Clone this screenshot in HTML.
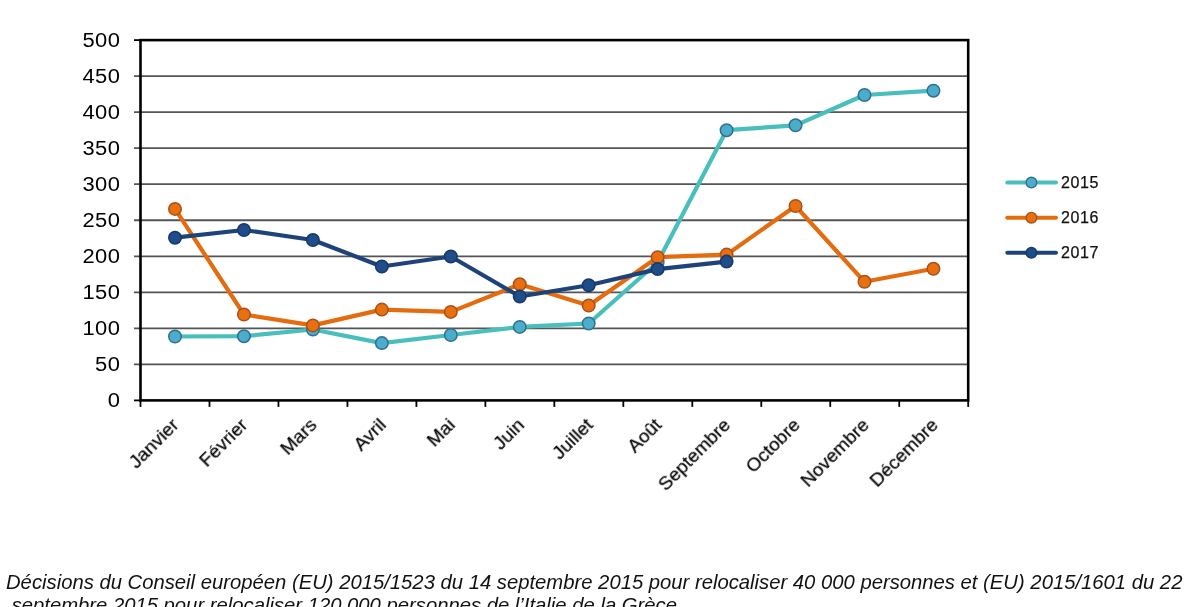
<!DOCTYPE html>
<html><head><meta charset="utf-8"><style>
html,body{margin:0;padding:0;background:#fff;}
body{width:1200px;height:607px;overflow:hidden;position:relative;font-family:"Liberation Sans",sans-serif;-webkit-font-smoothing:antialiased;}
.yl,.xl,.lg,.cap{will-change:transform;}
svg{position:absolute;left:0;top:0;}
.yl{position:absolute;left:0;width:120.3px;text-align:right;font-size:20.5px;line-height:20px;color:#000;letter-spacing:0.4px;transform:scaleX(1.07);transform-origin:100% 50%;}
.xl{position:absolute;font-size:19px;line-height:19px;white-space:nowrap;color:#000;-webkit-text-stroke:0.2px #000;transform-origin:100% 50%;transform:rotate(-45deg);}
.lg{position:absolute;font-size:16px;line-height:16px;color:#111;letter-spacing:0.6px;-webkit-text-stroke:0.25px #111;}
.cap{position:absolute;left:6px;font-style:italic;font-size:20.25px;line-height:23.25px;white-space:nowrap;color:#111;}
</style></head><body>

<svg width="1200" height="607" viewBox="0 0 1200 607">
<line x1="134.0" y1="364.37" x2="968.2" y2="364.37" stroke="#555555" stroke-width="1.8"/>
<line x1="134.0" y1="328.34" x2="968.2" y2="328.34" stroke="#555555" stroke-width="1.8"/>
<line x1="134.0" y1="292.31" x2="968.2" y2="292.31" stroke="#555555" stroke-width="1.8"/>
<line x1="134.0" y1="256.28" x2="968.2" y2="256.28" stroke="#555555" stroke-width="1.8"/>
<line x1="134.0" y1="220.25" x2="968.2" y2="220.25" stroke="#555555" stroke-width="1.8"/>
<line x1="134.0" y1="184.22" x2="968.2" y2="184.22" stroke="#555555" stroke-width="1.8"/>
<line x1="134.0" y1="148.19" x2="968.2" y2="148.19" stroke="#555555" stroke-width="1.8"/>
<line x1="134.0" y1="112.16" x2="968.2" y2="112.16" stroke="#555555" stroke-width="1.8"/>
<line x1="134.0" y1="76.13" x2="968.2" y2="76.13" stroke="#555555" stroke-width="1.8"/>
<rect x="140.5" y="40.10" width="827.7" height="360.30" fill="none" stroke="#000" stroke-width="2.6"/>
<line x1="134.0" y1="400.40" x2="140.5" y2="400.40" stroke="#000" stroke-width="1.8"/>
<line x1="134.0" y1="40.10" x2="140.5" y2="40.10" stroke="#000" stroke-width="1.8"/>
<line x1="140.50" y1="400.40" x2="140.50" y2="406.90" stroke="#000" stroke-width="1.8"/>
<line x1="209.48" y1="400.40" x2="209.48" y2="406.90" stroke="#000" stroke-width="1.8"/>
<line x1="278.45" y1="400.40" x2="278.45" y2="406.90" stroke="#000" stroke-width="1.8"/>
<line x1="347.43" y1="400.40" x2="347.43" y2="406.90" stroke="#000" stroke-width="1.8"/>
<line x1="416.40" y1="400.40" x2="416.40" y2="406.90" stroke="#000" stroke-width="1.8"/>
<line x1="485.38" y1="400.40" x2="485.38" y2="406.90" stroke="#000" stroke-width="1.8"/>
<line x1="554.35" y1="400.40" x2="554.35" y2="406.90" stroke="#000" stroke-width="1.8"/>
<line x1="623.33" y1="400.40" x2="623.33" y2="406.90" stroke="#000" stroke-width="1.8"/>
<line x1="692.30" y1="400.40" x2="692.30" y2="406.90" stroke="#000" stroke-width="1.8"/>
<line x1="761.27" y1="400.40" x2="761.27" y2="406.90" stroke="#000" stroke-width="1.8"/>
<line x1="830.25" y1="400.40" x2="830.25" y2="406.90" stroke="#000" stroke-width="1.8"/>
<line x1="899.23" y1="400.40" x2="899.23" y2="406.90" stroke="#000" stroke-width="1.8"/>
<line x1="968.20" y1="400.40" x2="968.20" y2="406.90" stroke="#000" stroke-width="1.8"/>
<polyline points="175.00,336.50 243.95,336.20 312.90,329.50 381.85,343.10 450.80,335.00 519.75,326.90 588.70,323.50 657.65,262.20 726.60,130.20 795.55,125.30 864.50,95.00 933.45,90.70" fill="none" stroke="#48BFBD" stroke-width="4.2" stroke-linejoin="round" stroke-linecap="round"/>
<circle cx="175.00" cy="336.50" r="6.25" fill="#4BACCB" stroke="#30708E" stroke-width="1.5"/>
<circle cx="243.95" cy="336.20" r="6.25" fill="#4BACCB" stroke="#30708E" stroke-width="1.5"/>
<circle cx="312.90" cy="329.50" r="6.25" fill="#4BACCB" stroke="#30708E" stroke-width="1.5"/>
<circle cx="381.85" cy="343.10" r="6.25" fill="#4BACCB" stroke="#30708E" stroke-width="1.5"/>
<circle cx="450.80" cy="335.00" r="6.25" fill="#4BACCB" stroke="#30708E" stroke-width="1.5"/>
<circle cx="519.75" cy="326.90" r="6.25" fill="#4BACCB" stroke="#30708E" stroke-width="1.5"/>
<circle cx="588.70" cy="323.50" r="6.25" fill="#4BACCB" stroke="#30708E" stroke-width="1.5"/>
<circle cx="657.65" cy="262.20" r="6.25" fill="#4BACCB" stroke="#30708E" stroke-width="1.5"/>
<circle cx="726.60" cy="130.20" r="6.25" fill="#4BACCB" stroke="#30708E" stroke-width="1.5"/>
<circle cx="795.55" cy="125.30" r="6.25" fill="#4BACCB" stroke="#30708E" stroke-width="1.5"/>
<circle cx="864.50" cy="95.00" r="6.25" fill="#4BACCB" stroke="#30708E" stroke-width="1.5"/>
<circle cx="933.45" cy="90.70" r="6.25" fill="#4BACCB" stroke="#30708E" stroke-width="1.5"/>
<polyline points="175.00,208.90 243.95,314.50 312.90,325.40 381.85,309.60 450.80,311.90 519.75,284.30 588.70,305.50 657.65,257.20 726.60,254.60 795.55,206.00 864.50,281.80 933.45,268.80" fill="none" stroke="#E46C0E" stroke-width="4.2" stroke-linejoin="round" stroke-linecap="round"/>
<circle cx="175.00" cy="208.90" r="6.25" fill="#E8700E" stroke="#A9501C" stroke-width="1.5"/>
<circle cx="243.95" cy="314.50" r="6.25" fill="#E8700E" stroke="#A9501C" stroke-width="1.5"/>
<circle cx="312.90" cy="325.40" r="6.25" fill="#E8700E" stroke="#A9501C" stroke-width="1.5"/>
<circle cx="381.85" cy="309.60" r="6.25" fill="#E8700E" stroke="#A9501C" stroke-width="1.5"/>
<circle cx="450.80" cy="311.90" r="6.25" fill="#E8700E" stroke="#A9501C" stroke-width="1.5"/>
<circle cx="519.75" cy="284.30" r="6.25" fill="#E8700E" stroke="#A9501C" stroke-width="1.5"/>
<circle cx="588.70" cy="305.50" r="6.25" fill="#E8700E" stroke="#A9501C" stroke-width="1.5"/>
<circle cx="657.65" cy="257.20" r="6.25" fill="#E8700E" stroke="#A9501C" stroke-width="1.5"/>
<circle cx="726.60" cy="254.60" r="6.25" fill="#E8700E" stroke="#A9501C" stroke-width="1.5"/>
<circle cx="795.55" cy="206.00" r="6.25" fill="#E8700E" stroke="#A9501C" stroke-width="1.5"/>
<circle cx="864.50" cy="281.80" r="6.25" fill="#E8700E" stroke="#A9501C" stroke-width="1.5"/>
<circle cx="933.45" cy="268.80" r="6.25" fill="#E8700E" stroke="#A9501C" stroke-width="1.5"/>
<polyline points="175.00,237.70 243.95,230.00 312.90,240.00 381.85,266.50 450.80,256.50 519.75,296.50 588.70,285.30 657.65,269.10 726.60,261.60" fill="none" stroke="#1E437B" stroke-width="4.2" stroke-linejoin="round" stroke-linecap="round"/>
<circle cx="175.00" cy="237.70" r="6.25" fill="#1F4D89" stroke="#173868" stroke-width="1.5"/>
<circle cx="243.95" cy="230.00" r="6.25" fill="#1F4D89" stroke="#173868" stroke-width="1.5"/>
<circle cx="312.90" cy="240.00" r="6.25" fill="#1F4D89" stroke="#173868" stroke-width="1.5"/>
<circle cx="381.85" cy="266.50" r="6.25" fill="#1F4D89" stroke="#173868" stroke-width="1.5"/>
<circle cx="450.80" cy="256.50" r="6.25" fill="#1F4D89" stroke="#173868" stroke-width="1.5"/>
<circle cx="519.75" cy="296.50" r="6.25" fill="#1F4D89" stroke="#173868" stroke-width="1.5"/>
<circle cx="588.70" cy="285.30" r="6.25" fill="#1F4D89" stroke="#173868" stroke-width="1.5"/>
<circle cx="657.65" cy="269.10" r="6.25" fill="#1F4D89" stroke="#173868" stroke-width="1.5"/>
<circle cx="726.60" cy="261.60" r="6.25" fill="#1F4D89" stroke="#173868" stroke-width="1.5"/>
<line x1="1007.3" y1="182.60" x2="1056" y2="182.60" stroke="#48BFBD" stroke-width="4" stroke-linecap="round"/>
<circle cx="1031.4" cy="182.60" r="5.3" fill="#4BACCB" stroke="#30708E" stroke-width="1.4"/>
<line x1="1007.3" y1="217.70" x2="1056" y2="217.70" stroke="#E46C0E" stroke-width="4" stroke-linecap="round"/>
<circle cx="1031.4" cy="217.70" r="5.3" fill="#E8700E" stroke="#A9501C" stroke-width="1.4"/>
<line x1="1007.3" y1="252.80" x2="1056" y2="252.80" stroke="#1E437B" stroke-width="4" stroke-linecap="round"/>
<circle cx="1031.4" cy="252.80" r="5.3" fill="#1F4D89" stroke="#173868" stroke-width="1.4"/>
</svg>
<div class="yl" style="top:390.0px">0</div>
<div class="yl" style="top:354.0px">50</div>
<div class="yl" style="top:317.9px">100</div>
<div class="yl" style="top:281.9px">150</div>
<div class="yl" style="top:245.9px">200</div>
<div class="yl" style="top:209.8px">250</div>
<div class="yl" style="top:173.8px">300</div>
<div class="yl" style="top:137.8px">350</div>
<div class="yl" style="top:101.8px">400</div>
<div class="yl" style="top:65.7px">450</div>
<div class="yl" style="top:29.7px">500</div>
<div class="xl" style="right:1024.3px;top:412.4px">Janvier</div>
<div class="xl" style="right:955.4px;top:412.4px">Février</div>
<div class="xl" style="right:886.4px;top:412.4px">Mars</div>
<div class="xl" style="right:817.5px;top:412.4px">Avril</div>
<div class="xl" style="right:748.5px;top:412.4px">Mai</div>
<div class="xl" style="right:679.5px;top:412.4px">Juin</div>
<div class="xl" style="right:610.6px;top:412.4px">Juillet</div>
<div class="xl" style="right:541.6px;top:412.4px">Août</div>
<div class="xl" style="right:472.7px;top:412.4px">Septembre</div>
<div class="xl" style="right:403.7px;top:412.4px">Octobre</div>
<div class="xl" style="right:334.8px;top:412.4px">Novembre</div>
<div class="xl" style="right:265.8px;top:412.4px">Décembre</div>
<div class="lg" style="left:1061.3px;top:175.2px">2015</div>
<div class="lg" style="left:1061.3px;top:210.3px">2016</div>
<div class="lg" style="left:1061.3px;top:245.4px">2017</div>
<div class="cap" style="top:571px">Décisions du Conseil européen (EU) 2015/1523 du 14 septembre 2015 pour relocaliser 40 000 personnes et (EU) 2015/1601 du 22<br>&nbsp;septembre 2015 pour relocaliser 120 000 personnes de l’Italie de la Grèce.</div>
</body></html>
